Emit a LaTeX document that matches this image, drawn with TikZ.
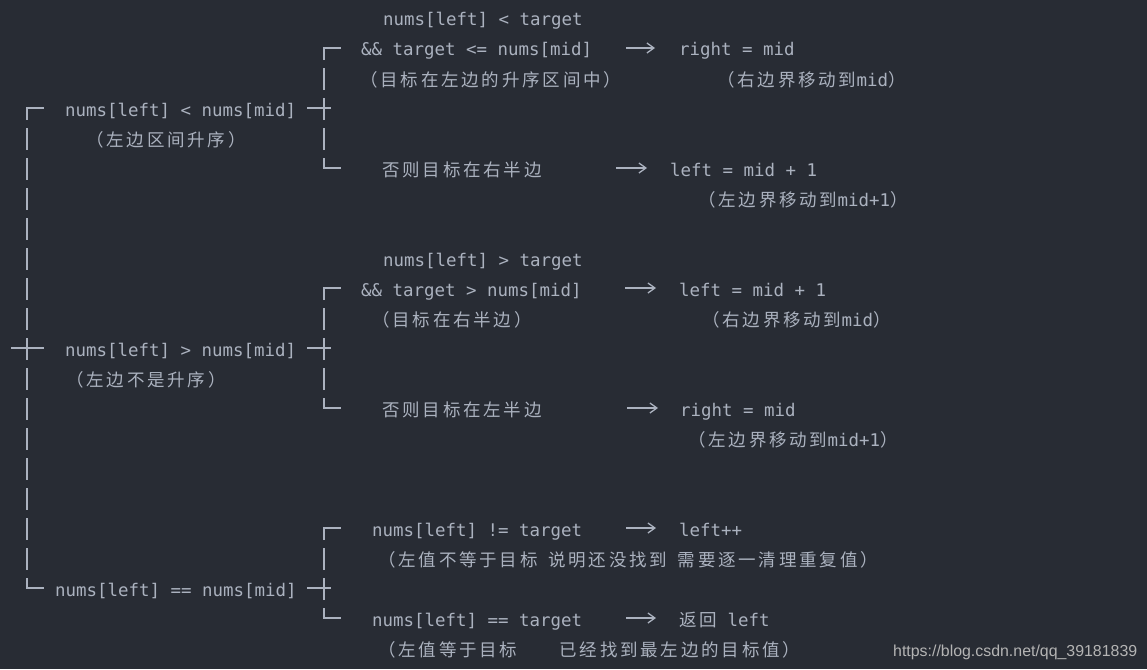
\documentclass[tikz,border=0pt]{standalone}
\usepackage{fontspec}
\usetikzlibrary{arrows.meta}
\newfontfamily\monofam{DejaVu Sans Mono}
\newfontfamily\cjkfam{Noto Sans CJK SC}[LetterSpace=16]
\newfontfamily\wmfam{Liberation Sans}
\newcommand\zhtext[1]{{\cjkfam\fontsize{17.5}{20}\selectfont #1}}
\definecolor{bg}{HTML}{282C34}
\definecolor{fg}{HTML}{ABB2BF}
\definecolor{wmc}{HTML}{B4B4B4}
\tikzset{
  t/.style={anchor=base west, inner sep=0pt, text=fg, font=\monofam\fontsize{17.44}{20}\selectfont},
  tree/.style={draw=fg, line width=1.3pt},
  trunk/.style={tree, dash pattern=on 22pt off 8pt, dash phase=10pt},
  tick/.style={tree, line cap=rect},
  arr/.style={draw=fg, line width=1.3pt, -{Straight Barb[length=7pt,width=10pt]}},
}
\begin{document}
\begin{tikzpicture}[x=1pt,y=-1pt]
\fill[bg] (0,0) rectangle (1147,669);
\useasboundingbox (0,0) rectangle (1147,669);

% ---- left column conditions
\node[t] (L1) at (65,116) {nums[left] < nums[mid]};
\node[t] (L1n) at (86,146) {\zhtext{（左边区间升序）}};
\node[t] (L2) at (65,356) {nums[left] > nums[mid]};
\node[t] (L2n) at (66,386) {\zhtext{（左边不是升序）}};
\node[t] (L3) at (55,596) {nums[left] == nums[mid]};

% ---- group 1
\node[t] (c1a) at (383,26) {nums[left] < target};
\node[t] (c1b) at (361,56) {\&\& target <= nums[mid]};
\node[t] (r1) at (679,56) {right = mid};
\node[t] (n1) at (360,86) {\zhtext{（目标在左边的升序区间中）}};
\node[t] (rn1) at (717,86) {\zhtext{（右边界移动到}mid\zhtext{）}};
\node[t] (c2) at (382,176) {\zhtext{否则目标在右半边}};
\node[t] (r2) at (670,176) {left = mid + 1};
\node[t] (rn2) at (698,206) {\zhtext{（左边界移动到}mid+1\zhtext{）}};

% ---- group 2
\node[t] (c3a) at (383,266) {nums[left] > target};
\node[t] (c3b) at (361,296) {\&\& target > nums[mid]};
\node[t] (r3) at (679,296) {left = mid + 1};
\node[t] (n3) at (372,326) {\zhtext{（目标在右半边）}};
\node[t] (rn3) at (702,326) {\zhtext{（右边界移动到}mid\zhtext{）}};
\node[t] (c4) at (382,416) {\zhtext{否则目标在左半边}};
\node[t] (r4) at (680,416) {right = mid};
\node[t] (rn4) at (688,446) {\zhtext{（左边界移动到}mid+1\zhtext{）}};

% ---- group 3
\node[t] (c5) at (372,536) {nums[left] != target};
\node[t] (r5) at (679,536) {left++};
\node[t] (n5) at (378,566) {\zhtext{（左值不等于目标}\ \zhtext{说明还没找到}\ \zhtext{需要逐一清理重复值）}};
\node[t] (c6) at (372,626) {nums[left] == target};
\node[t] (r6) at (679,626) {\zhtext{返回}\ left};
\node[t] (n6) at (378,656) {\zhtext{（左值等于目标}\ \ \ \ \zhtext{已经找到最左边的目标值）}};

% ---- watermark
\node[anchor=base west, inner sep=0pt, text=wmc, font=\wmfam\fontsize{15.9}{18}\selectfont] (wm) at (893,656) {https://blog.csdn.net/qq\_39181839};

% ---- tree coordinates
\coordinate (LT) at (27,108);
\coordinate (LB) at (27,588);
\coordinate (LTe) at (43,108);
\coordinate (LMs) at (12,348);
\coordinate (LMe) at (43,348);
\coordinate (LBe) at (43,588);

\coordinate (M1t) at (324,48);  \coordinate (M1te) at (340,48);
\coordinate (M1b) at (324,168); \coordinate (M1be) at (340,168);
\coordinate (M1js) at (308,108); \coordinate (M1je) at (330,108);

\coordinate (M2t) at (324,288);  \coordinate (M2te) at (340,288);
\coordinate (M2b) at (324,408); \coordinate (M2be) at (340,408);
\coordinate (M2js) at (308,348); \coordinate (M2je) at (330,348);

\coordinate (M3t) at (324,528);  \coordinate (M3te) at (340,528);
\coordinate (M3b) at (324,618); \coordinate (M3be) at (340,618);
\coordinate (M3js) at (308,588); \coordinate (M3je) at (330,588);

% ---- trunk lines
\draw[trunk] (LT) -- (LB);
\draw[tick] (LT) -- (LTe);
\draw[tick] (LMs) -- (LMe);
\draw[tick] (LB) -- (LBe);

\draw[trunk] (M1t) -- (M1b);
\draw[tick] (M1t) -- (M1te);
\draw[tick] (M1b) -- (M1be);
\draw[tick] (M1js) -- (M1je);

\draw[trunk] (M2t) -- (M2b);
\draw[tick] (M2t) -- (M2te);
\draw[tick] (M2b) -- (M2be);
\draw[tick] (M2js) -- (M2je);

\draw[trunk] (M3t) -- (M3b);
\draw[tick] (M3t) -- (M3te);
\draw[tick] (M3b) -- (M3be);
\draw[tick] (M3js) -- (M3je);

% ---- arrows
\coordinate (a1s) at (626,48);  \coordinate (a1e) at (655,48);
\coordinate (a2s) at (616,168); \coordinate (a2e) at (647,168);
\coordinate (a3s) at (625,288); \coordinate (a3e) at (656,288);
\coordinate (a4s) at (627,408); \coordinate (a4e) at (658,408);
\coordinate (a5s) at (626,528); \coordinate (a5e) at (656,528);
\coordinate (a6s) at (626,618); \coordinate (a6e) at (656,618);
\draw[arr] (a1s) -- (a1e);
\draw[arr] (a2s) -- (a2e);
\draw[arr] (a3s) -- (a3e);
\draw[arr] (a4s) -- (a4e);
\draw[arr] (a5s) -- (a5e);
\draw[arr] (a6s) -- (a6e);
\end{tikzpicture}
\end{document}
